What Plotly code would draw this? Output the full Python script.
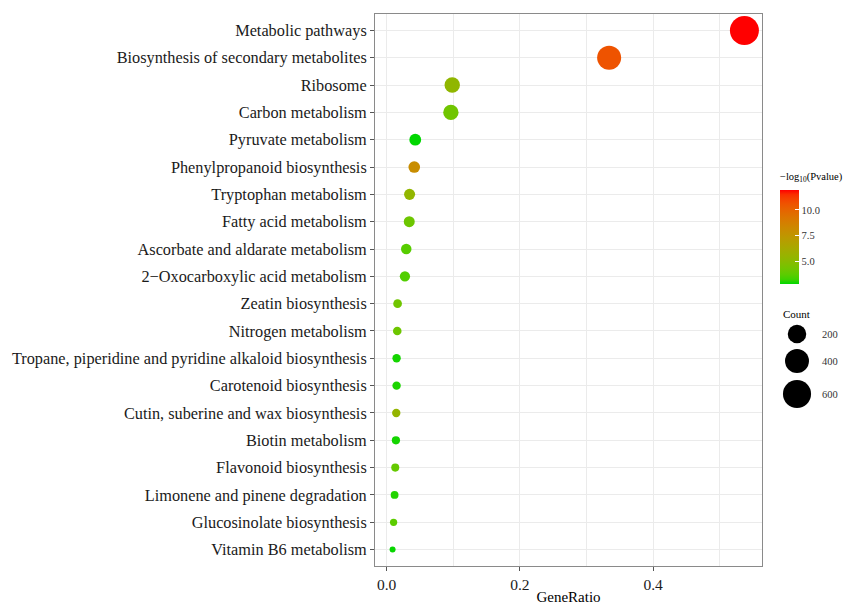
import numpy as np
import plotly.graph_objects as go

# ---------------- data ----------------
pathways = [
    "Metabolic pathways",
    "Biosynthesis of secondary metabolites",
    "Ribosome",
    "Carbon metabolism",
    "Pyruvate metabolism",
    "Phenylpropanoid biosynthesis",
    "Tryptophan metabolism",
    "Fatty acid metabolism",
    "Ascorbate and aldarate metabolism",
    "2\u2212Oxocarboxylic acid metabolism",
    "Zeatin biosynthesis",
    "Nitrogen metabolism",
    "Tropane, piperidine and pyridine alkaloid biosynthesis",
    "Carotenoid biosynthesis",
    "Cutin, suberine and wax biosynthesis",
    "Biotin metabolism",
    "Flavonoid biosynthesis",
    "Limonene and pinene degradation",
    "Glucosinolate biosynthesis",
    "Vitamin B6 metabolism",
]
gene_ratio = [0.537, 0.334, 0.0985, 0.0965, 0.043, 0.0415, 0.0345, 0.034, 0.0295, 0.0275,
              0.0165, 0.016, 0.015, 0.015, 0.0145, 0.014, 0.013, 0.012, 0.0105, 0.009]
count = [650, 404, 119, 117, 52, 50, 42, 41, 36, 33,
         20, 19, 18, 18, 18, 17, 16, 15, 13, 11]
neglog10_p = [11.95, 10.6, 5.25, 4.2, 2.75, 8.0, 5.3, 4.1, 3.6, 3.5,
              4.2, 4.1, 2.9, 2.95, 5.4, 2.9, 3.9, 3.0, 3.7, 2.8]
color_ticks = [5.0, 7.5, 10.0]
count_breaks = [200, 400, 600]

# ---------------- styles ----------------
LOW, HIGH = (0, 215, 0), (255, 0, 0)
SIZE_MIN, SIZE_MAX = 6.0, 29.0
SERIF = "Liberation Serif, Times New Roman, serif"

W, H = 844, 605
ML, MR, MT, MB = 375, 0, 14, 39
PW, PH = W - ML - MR, H - MT - MB
PANEL_RIGHT = 762


def srgb_to_lab(rgb):
    c = np.array(rgb, dtype=float) / 255.0
    c = np.where(c <= 0.04045, c / 12.92, ((c + 0.055) / 1.055) ** 2.4)
    M = np.array([[0.4124, 0.3576, 0.1805], [0.2126, 0.7152, 0.0722], [0.0193, 0.1192, 0.9505]])
    xyz = M @ c
    xyz = xyz / np.array([0.95047, 1.0, 1.08883])
    f = np.where(xyz > 0.008856, np.cbrt(xyz), 7.787 * xyz + 16 / 116)
    return np.array([116 * f[1] - 16, 500 * (f[0] - f[1]), 200 * (f[1] - f[2])])


def lab_to_srgb(lab):
    L, a, b = lab
    fy = (L + 16) / 116
    fx = fy + a / 500
    fz = fy - b / 200
    f = np.array([fx, fy, fz])
    xyz = np.where(f ** 3 > 0.008856, f ** 3, (f - 16 / 116) / 7.787)
    xyz = xyz * np.array([0.95047, 1.0, 1.08883])
    Minv = np.array([[3.2406, -1.5372, -0.4986], [-0.9689, 1.8758, 0.0415], [0.0557, -0.2040, 1.0570]])
    c = Minv @ xyz
    c = np.clip(c, 0, 1)
    c = np.where(c <= 0.0031308, 12.92 * c, 1.055 * c ** (1 / 2.4) - 0.055)
    c = np.clip(np.round(c * 255), 0, 255).astype(int)
    return "rgb(%d,%d,%d)" % tuple(c)


lab_lo, lab_hi = srgb_to_lab(LOW), srgb_to_lab(HIGH)
colorscale = [[t, lab_to_srgb(lab_lo + (lab_hi - lab_lo) * t)] for t in np.linspace(0, 1, 21)]

cmin_c, cmax_c = min(count), max(count)


def size_px(c):
    c = np.asarray(c, dtype=float)
    return SIZE_MIN + (SIZE_MAX - SIZE_MIN) * np.sqrt((c - cmin_c) / (cmax_c - cmin_c))


# ---------------- figure ----------------
fig = go.Figure()

fig.add_trace(go.Scatter(
    x=gene_ratio, y=pathways, mode="markers",
    marker=dict(size=size_px(count), sizemode="diameter", color=neglog10_p,
                coloraxis="coloraxis", line=dict(width=0), opacity=1),
    opacity=1, showlegend=False, hoverinfo="x+y+text", text=[f"Count: {c}" for c in count],
))

# size legend (drawn in a helper axis using pixel units)
leg_x0 = 775
fig.add_trace(go.Scatter(
    x=[797 - leg_x0] * 3, y=[334 - MT, 361 - MT, 394 - MT], mode="markers",
    marker=dict(size=size_px(count_breaks), sizemode="diameter", color="rgb(0,0,0)",
                line=dict(width=0), opacity=1),
    opacity=1, xaxis="x2", yaxis="y2", showlegend=False, hoverinfo="skip", cliponaxis=False,
))

n = len(pathways)
xmin, xmax = min(gene_ratio), max(gene_ratio)
pad = 0.05 * (xmax - xmin)

annotations = [
    dict(text="\u2212log<sub>10</sub>(Pvalue)", x=(778 - ML) / PW, y=1 - (177 - MT) / PH,
         xref="paper", yref="paper", xanchor="left", yanchor="middle", showarrow=False,
         font=dict(family=SERIF, size=10.5, color="#000")),
    dict(text="Count", x=(781 - ML) / PW, y=1 - (314 - MT) / PH,
         xref="paper", yref="paper", xanchor="left", yanchor="middle", showarrow=False,
         font=dict(family=SERIF, size=11, color="#000")),
]
for b, yy in zip(count_breaks, [334, 361, 394]):
    annotations.append(dict(text=str(b), x=(820 - ML) / PW, y=1 - (yy - MT) / PH,
                            xref="paper", yref="paper", xanchor="left", yanchor="middle",
                            showarrow=False, font=dict(family=SERIF, size=10.5, color="#333333")))

fig.update_layout(
    width=W, height=H,
    margin=dict(l=ML, r=MR, t=MT, b=MB, pad=0),
    paper_bgcolor="white", plot_bgcolor="white",
    font=dict(family=SERIF, color="#1a1a1a"),
    xaxis=dict(
        domain=[0, (PANEL_RIGHT - ML) / PW],
        range=[xmin - pad, xmax + pad],
        tickvals=[0.0, 0.2, 0.4], ticktext=["0.0", "0.2", "0.4"],
        showgrid=True, gridcolor="#EBEBEB", gridwidth=1,
        minor=dict(tickvals=[0.1, 0.3, 0.5], showgrid=True, gridcolor="#EBEBEB", gridwidth=0.6),
        zeroline=False,
        showline=True, mirror=True, linecolor="#8a8a8a", linewidth=1,
        ticks="outside", ticklen=4, tickcolor="#555555", tickwidth=1,
        tickfont=dict(family=SERIF, size=15.5, color="#1a1a1a"),
        title=dict(text="GeneRatio", font=dict(family=SERIF, size=15, color="#000"), standoff=2),
    ),
    yaxis=dict(
        categoryorder="array", categoryarray=pathways,
        range=[n - 1 + 0.6, -0.6],
        showgrid=True, gridcolor="#EBEBEB", gridwidth=1,
        zeroline=False,
        showline=True, mirror=True, linecolor="#8a8a8a", linewidth=1,
        ticks="outside", ticklen=4, tickcolor="#555555", tickwidth=1,
        tickfont=dict(family=SERIF, size=16.3, color="#1a1a1a"),
    ),
    xaxis2=dict(domain=[(leg_x0 - ML) / PW, 1], range=[0, W - leg_x0], visible=False, fixedrange=True),
    yaxis2=dict(domain=[0, 1], range=[PH, 0], visible=False, anchor="x2", fixedrange=True),
    coloraxis=dict(
        cmin=min(neglog10_p), cmax=max(neglog10_p), colorscale=colorscale,
        colorbar=dict(
            x=(780 - ML) / PW, xanchor="left", xpad=0,
            y=1 - (237 - MT) / PH, yanchor="middle", ypad=0,
            thickness=19, thicknessmode="pixels", len=94, lenmode="pixels",
            outlinewidth=0,
            tickvals=color_ticks, ticktext=["5.0", "7.5", "10.0"],
            ticks="inside", ticklen=4, tickcolor="white", tickwidth=1,
            tickfont=dict(family=SERIF, size=10.5, color="#333333"),
        ),
    ),
    annotations=annotations,
)

fig.write_html("out.html")
